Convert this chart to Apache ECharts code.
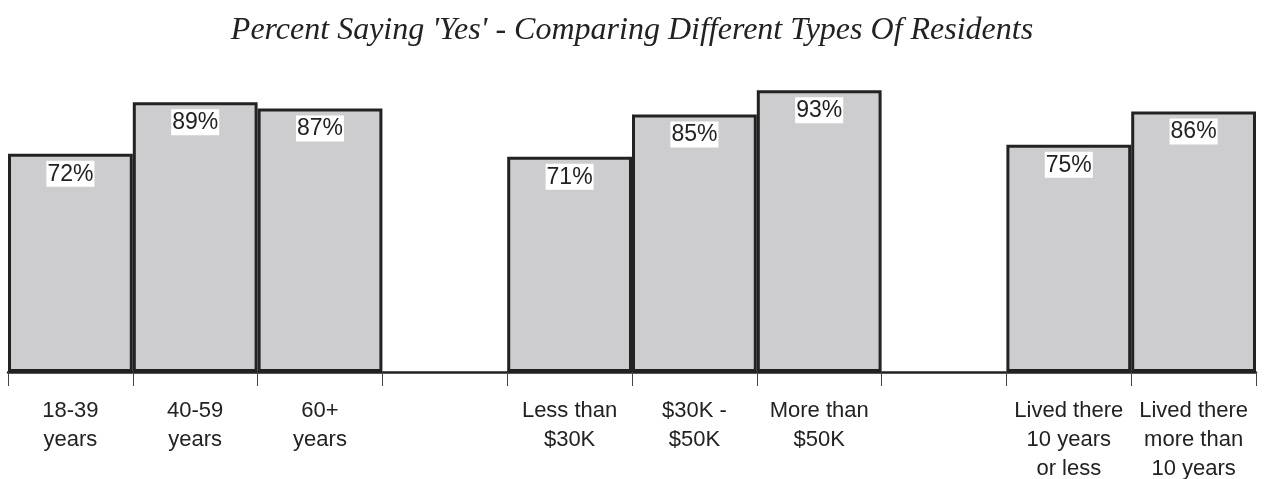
<!DOCTYPE html>
<html>
<head>
<meta charset="utf-8">
<script src="https://cdn.jsdelivr.net/npm/echarts@6/dist/echarts.min.js"></script>
<style>
  html, body { margin: 0; padding: 0; background: #fff; }
  #chart { width: 1264px; height: 479px; }
</style>
</head>
<body>
<div id="chart"></div>
<script>
// categories (empty strings are the gaps between groups)
var categories = [
  '18-39\nyears', '40-59\nyears', '60+\nyears', '',
  'Less than\n$30K', '$30K -\n$50K', 'More than\n$50K', '',
  'Lived there\n10 years\nor less', 'Lived there\nmore than\n10 years'
];
var yesPercent = [72, 89, 87, '-', 71, 85, 93, '-', 75, 86];

var myChart = echarts.init(document.getElementById('chart'));
var option = {
  animation: false,
  title: {
    text: "Percent Saying 'Yes' - Comparing Different Types Of Residents",
    left: 'center',
    top: 10,
    textStyle: {
      fontFamily: 'Liberation Serif',
      fontStyle: 'italic',
      fontWeight: 'normal',
      fontSize: 32,
      color: '#222'
    }
  },
  grid: { left: 8, right: 8, top: 69, bottom: 107, outerBoundsMode: 'none' },
  xAxis: {
    type: 'category',
    data: categories,
    axisLine: { lineStyle: { color: '#222', width: 2.5 } },
    axisTick: { show: true, length: 14, lineStyle: { color: '#444', width: 1 } },
    axisLabel: {
      interval: 0,
      margin: 24,
      fontFamily: 'Liberation Sans',
      fontSize: 22,
      lineHeight: 29,
      color: '#222'
    }
  },
  yAxis: {
    type: 'value',
    min: 0,
    max: 100,
    show: false
  },
  series: [{
    type: 'bar',
    data: yesPercent,
    barWidth: '100%',
    itemStyle: { color: '#cdcdcf', borderColor: '#222', borderWidth: 3 },
    label: {
      show: true,
      position: 'insideTop',
      distance: 7,
      formatter: '{c}%',
      backgroundColor: '#fff',
      padding: [2, 1, 1, 1],
      fontFamily: 'Liberation Sans',
      fontSize: 23,
      color: '#222'
    }
  }]
};
myChart.setOption(option);
</script>
</body>
</html>
